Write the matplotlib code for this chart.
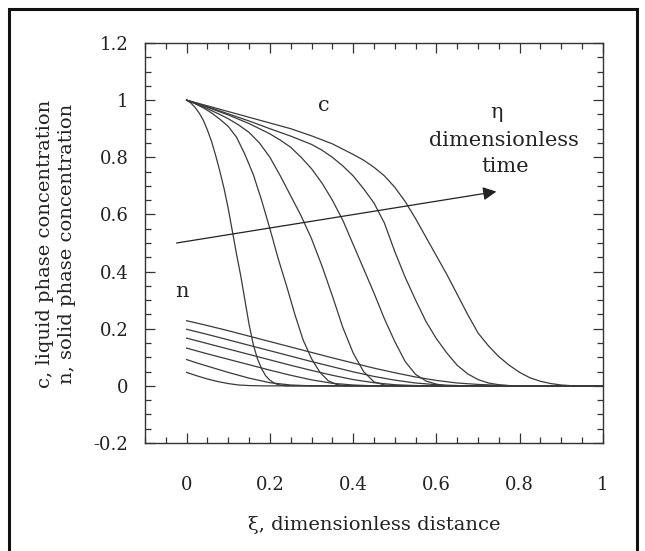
import matplotlib
matplotlib.use("Agg")
import matplotlib.pyplot as plt
from matplotlib.patches import Rectangle
from matplotlib.ticker import MultipleLocator

# liquid phase concentration c, one profile per time step
c1_x = [0, 0.01, 0.02, 0.03, 0.04, 0.05, 0.06, 0.07, 0.08, 0.09, 0.10, 0.11, 0.12,
        0.13, 0.14, 0.15, 0.16, 0.17, 0.18, 0.19, 0.20, 0.21, 0.22, 0.24, 1.0]
c1_y = [1, 0.99, 0.975, 0.955, 0.93, 0.895, 0.855, 0.805, 0.75, 0.69, 0.62, 0.54, 0.46,
        0.385, 0.30, 0.215, 0.145, 0.095, 0.06, 0.035, 0.02, 0.01, 0.004, 0, 0]

c2_x = [0, 0.02, 0.04, 0.06, 0.08, 0.10, 0.12, 0.14, 0.16, 0.18, 0.20, 0.22, 0.24,
        0.26, 0.28, 0.30, 0.32, 0.34, 0.36, 0.38, 1.0]
c2_y = [1, 0.988, 0.973, 0.955, 0.933, 0.908, 0.87, 0.81, 0.74, 0.65, 0.55, 0.445, 0.35,
        0.25, 0.16, 0.095, 0.048, 0.018, 0.005, 0, 0]

c3_x = [0, 0.025, 0.05, 0.075, 0.10, 0.125, 0.15, 0.175, 0.20, 0.225, 0.25, 0.275, 0.30,
        0.325, 0.35, 0.375, 0.40, 0.425, 0.45, 0.475, 0.50, 1.0]
c3_y = [1, 0.985, 0.97, 0.953, 0.935, 0.913, 0.887, 0.85, 0.80, 0.735, 0.665, 0.595, 0.515,
        0.42, 0.315, 0.205, 0.115, 0.05, 0.014, 0.003, 0, 0]

c4_x = [0, 0.05, 0.1, 0.15, 0.2, 0.225, 0.25, 0.275, 0.30, 0.325, 0.35, 0.375, 0.40,
        0.425, 0.45, 0.475, 0.50, 0.525, 0.55, 0.575, 0.60, 0.625, 1.0]
c4_y = [1, 0.975, 0.948, 0.918, 0.882, 0.86, 0.835, 0.80, 0.76, 0.71, 0.65, 0.58, 0.495,
        0.41, 0.325, 0.235, 0.155, 0.085, 0.04, 0.017, 0.006, 0, 0]

c5_x = [0, 0.05, 0.1, 0.15, 0.2, 0.25, 0.3, 0.325, 0.35, 0.375, 0.40, 0.425, 0.45,
        0.475, 0.50, 0.525, 0.55, 0.575, 0.60, 0.625, 0.65, 0.675, 0.70, 0.725, 0.75,
        0.78, 1.0]
c5_y = [1, 0.977, 0.952, 0.927, 0.90, 0.874, 0.845, 0.825, 0.80, 0.77, 0.735, 0.69, 0.64,
        0.57, 0.47, 0.38, 0.30, 0.225, 0.165, 0.115, 0.072, 0.042, 0.022, 0.01, 0.004,
        0, 0]

c6_x = [0, 0.05, 0.1, 0.15, 0.2, 0.25, 0.3, 0.35, 0.40, 0.425, 0.45, 0.475, 0.50, 0.525,
        0.55, 0.575, 0.60, 0.625, 0.65, 0.675, 0.70, 0.725, 0.75, 0.775, 0.80, 0.825,
        0.85, 0.875, 0.90, 0.93, 1.0]
c6_y = [1, 0.98, 0.96, 0.94, 0.92, 0.9, 0.875, 0.847, 0.81, 0.79, 0.765, 0.735, 0.695, 0.645,
        0.585, 0.52, 0.455, 0.39, 0.32, 0.25, 0.185, 0.14, 0.102, 0.072, 0.047, 0.028,
        0.016, 0.008, 0.003, 0, 0]

# solid phase concentration n
n1_x = [0, 0.05, 0.1, 0.15, 0.2, 0.25, 0.3, 0.35, 0.4, 0.45, 0.5, 0.55, 0.6, 0.65, 0.7,
        0.75, 0.8, 1.0]
n1_y = [0.228, 0.211, 0.193, 0.174, 0.155, 0.136, 0.117, 0.098, 0.08, 0.062, 0.046, 0.031,
        0.019, 0.01, 0.005, 0.002, 0, 0]

n2_x = [0, 0.05, 0.1, 0.15, 0.2, 0.25, 0.3, 0.35, 0.4, 0.45, 0.5, 0.55, 0.6, 0.65, 0.7, 1.0]
n2_y = [0.198, 0.18, 0.161, 0.142, 0.123, 0.104, 0.085, 0.067, 0.049, 0.033, 0.02, 0.01,
        0.004, 0.001, 0, 0]

n3_x = [0, 0.05, 0.1, 0.15, 0.2, 0.25, 0.3, 0.35, 0.4, 0.45, 0.5, 0.55, 0.6, 1.0]
n3_y = [0.167, 0.148, 0.129, 0.11, 0.091, 0.072, 0.054, 0.037, 0.022, 0.011, 0.004, 0.001,
        0, 0]

n4_x = [0, 0.05, 0.1, 0.15, 0.2, 0.25, 0.3, 0.35, 0.4, 0.45, 1.0]
n4_y = [0.132, 0.112, 0.093, 0.074, 0.055, 0.037, 0.021, 0.009, 0.003, 0, 0]

n5_x = [0, 0.025, 0.05, 0.1, 0.15, 0.2, 0.25, 0.3, 1.0]
n5_y = [0.092, 0.08, 0.069, 0.047, 0.027, 0.011, 0.003, 0, 0]

n6_x = [0, 0.025, 0.05, 0.075, 0.1, 0.125, 0.15, 0.18, 1.0]
n6_y = [0.047, 0.035, 0.024, 0.015, 0.008, 0.003, 0.001, 0, 0]

c_curves = [(c1_x, c1_y), (c2_x, c2_y), (c3_x, c3_y), (c4_x, c4_y), (c5_x, c5_y), (c6_x, c6_y)]
n_curves = [(n1_x, n1_y), (n2_x, n2_y), (n3_x, n3_y), (n4_x, n4_y), (n5_x, n5_y), (n6_x, n6_y)]

x_ticks = [0, 0.2, 0.4, 0.6, 0.8, 1.0]
x_tick_labels = ["0", "0.2", "0.4", "0.6", "0.8", "1"]
y_ticks = [-0.2, 0, 0.2, 0.4, 0.6, 0.8, 1.0, 1.2]
y_tick_labels = ["-0.2", "0", "0.2", "0.4", "0.6", "0.8", "1", "1.2"]

# time arrow, tail and head in data units
arrow_tail = (-0.024, 0.50)
arrow_head = (0.744, 0.68)

plt.rcParams["font.family"] = ["DejaVu Serif"]

fig = plt.figure(figsize=(6.45, 5.51), dpi=100)
ax = fig.add_axes([0.2248, 0.196, 0.710, 0.726])

line_color = "#3a3a3a"
for xs, ys in c_curves:
    ax.plot(xs, ys, color=line_color, lw=0.9)
for xs, ys in n_curves:
    ax.plot(xs, ys, color=line_color, lw=0.9)

ax.annotate("", xy=arrow_head, xytext=arrow_tail,
            arrowprops=dict(arrowstyle="-|>", color="#222222", lw=0.9,
                            mutation_scale=20, shrinkA=0, shrinkB=0))

txt = dict(fontsize=15, ha="center", va="center", color="#222222")
ax.text(0.33, 0.98, "c", **txt)
ax.text(-0.01, 0.33, "n", **txt)
ax.text(0.744, 0.958, "\u03b7", **txt)
ax.text(0.763, 0.857, "dimensionless", **txt)
ax.text(0.765, 0.766, "time", **txt)

ax.set_xlim(-0.1, 1.0)
ax.set_ylim(-0.2, 1.2)
ax.set_xticks(x_ticks)
ax.set_xticklabels(x_tick_labels)
ax.set_yticks(y_ticks)
ax.set_yticklabels(y_tick_labels)
ax.xaxis.set_minor_locator(MultipleLocator(0.05))
ax.yaxis.set_minor_locator(MultipleLocator(0.05))
ax.tick_params(which="both", direction="in", top=True, right=True, colors="#333333",
               labelcolor="#222222", labelsize=13, width=0.9)
ax.tick_params(which="major", length=7)
ax.tick_params(which="minor", length=4)
ax.tick_params(axis="x", which="major", pad=24)
ax.tick_params(axis="y", which="major", pad=12)
for sp in ax.spines.values():
    sp.set_color("#333333")
    sp.set_linewidth(1.0)

fig.text(0.5 * (145 + 603) / 645, 1 - 525 / 551, "\u03be, dimensionless distance",
         fontsize=14, ha="center", va="center", color="#222222")
fig.text(56 / 645, 1 - 244 / 551,
         "c, liquid phase concentration\nn, solid phase concentration",
         fontsize=14, rotation=90, ha="center", va="center", multialignment="center",
         linespacing=1.25, color="#222222")

# outer frame round the whole figure
fig.patches.append(Rectangle((9 / 645, -0.05), (637 - 9) / 645, 1.05 - 9 / 551,
                             transform=fig.transFigure, fill=False, ec="#111111", lw=2.2,
                             clip_on=False))

fig.savefig("out.png", dpi=100)
